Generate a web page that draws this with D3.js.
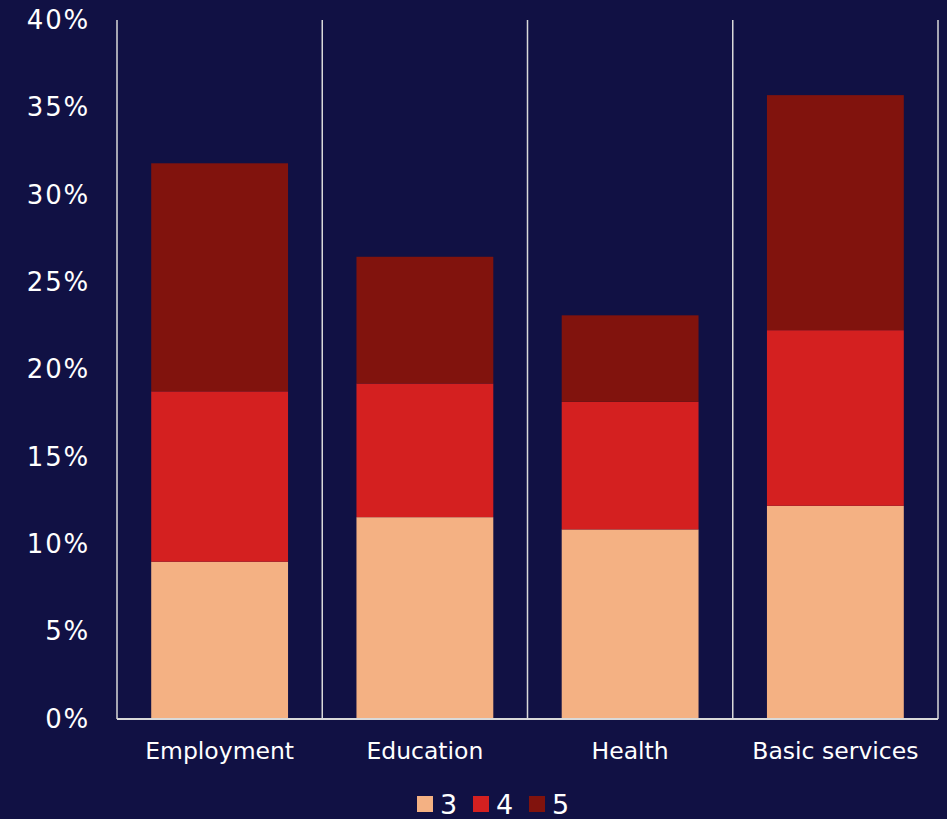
<!DOCTYPE html>
<html>
<head>
<meta charset="utf-8">
<script src="https://cdn.jsdelivr.net/npm/d3@7"></script>
<style>
  html, body { margin: 0; padding: 0; background: #111144; }
  svg { display: block; }
  text { font-family: "DejaVu Sans", Verdana, sans-serif; fill: #ffffff; }
</style>
</head>
<body>
<svg id="chart" width="947" height="819"></svg>
<script>
// Share of respondents by rating level (3, 4, 5) in each domain
const categories = ["Employment", "Education", "Health", "Basic services"];
const levels = ["3", "4", "5"];
const level3 = [9.0, 11.55, 10.85, 12.2];
const level4 = [9.75, 7.65, 7.3, 10.05];
const level5 = [13.05, 7.25, 4.95, 13.45];
const yTicks = [0, 5, 10, 15, 20, 25, 30, 35, 40];
const colors = ["#F4B183", "#D42020", "#81130D"];

const W = 947, H = 819;
const margin = { left: 117, right: 9, top: 20, bottom: 100 };
const svg = d3.select("#chart");

svg.append("rect").attr("width", W).attr("height", H).attr("fill", "#111144");

const rows = categories.map((c, i) => ({ cat: c, "3": level3[i], "4": level4[i], "5": level5[i] }));
const stacked = d3.stack().keys(levels)(rows);

const x = d3.scaleBand().domain(categories)
  .range([margin.left, W - margin.right])
  .paddingInner(1 / 3).paddingOuter(1 / 6);
const y = d3.scaleLinear().domain([0, 40]).range([H - margin.bottom, margin.top]);

// Category separators
const step = x.step();
const seps = d3.range(categories.length + 1).map(i => margin.left + i * step);
svg.append("g").selectAll("line").data(seps).join("line")
  .attr("x1", d => d).attr("x2", d => d)
  .attr("y1", y(40)).attr("y2", y(0))
  .attr("stroke", "#d9d9d9").attr("stroke-width", 1.5);

// Stacked bars
svg.append("g").selectAll("g").data(stacked).join("g")
  .attr("fill", (d, i) => colors[i])
  .selectAll("rect").data(d => d).join("rect")
  .attr("x", d => x(d.data.cat))
  .attr("width", x.bandwidth())
  .attr("y", d => y(d[1]))
  .attr("height", d => y(d[0]) - y(d[1]));

// Baseline
svg.append("line")
  .attr("x1", margin.left).attr("x2", W - margin.right)
  .attr("y1", y(0)).attr("y2", y(0))
  .attr("stroke", "#d9d9d9").attr("stroke-width", 2);

// Y axis labels
const yAxis = d3.axisLeft(y).tickValues(yTicks).tickFormat(d => d + "%").tickSize(0).tickPadding(27);
const gy = svg.append("g").attr("transform", `translate(${margin.left},0)`).call(yAxis);
gy.select(".domain").remove();
gy.selectAll("text").attr("font-size", 26).attr("fill", "#ffffff")
  .attr("letter-spacing", 1.8)
  .attr("font-family", "'DejaVu Sans', Verdana, sans-serif");

// X axis labels
const xAxis = d3.axisBottom(x).tickSize(0).tickPadding(23);
const gx = svg.append("g").attr("transform", `translate(0,${y(0)})`).call(xAxis);
gx.select(".domain").remove();
gx.selectAll("text").attr("font-size", 23.5).attr("fill", "#ffffff")
  .attr("font-family", "'DejaVu Sans', Verdana, sans-serif");

// Legend
const legendX = [417, 473, 529];
const lg = svg.append("g").selectAll("g").data(levels).join("g")
  .attr("transform", (d, i) => `translate(${legendX[i]},796)`);
lg.append("rect").attr("width", 16).attr("height", 16).attr("fill", (d, i) => colors[i]);
lg.append("text").attr("x", 23).attr("y", 18).attr("font-size", 27).text(d => d);
</script>
</body>
</html>
